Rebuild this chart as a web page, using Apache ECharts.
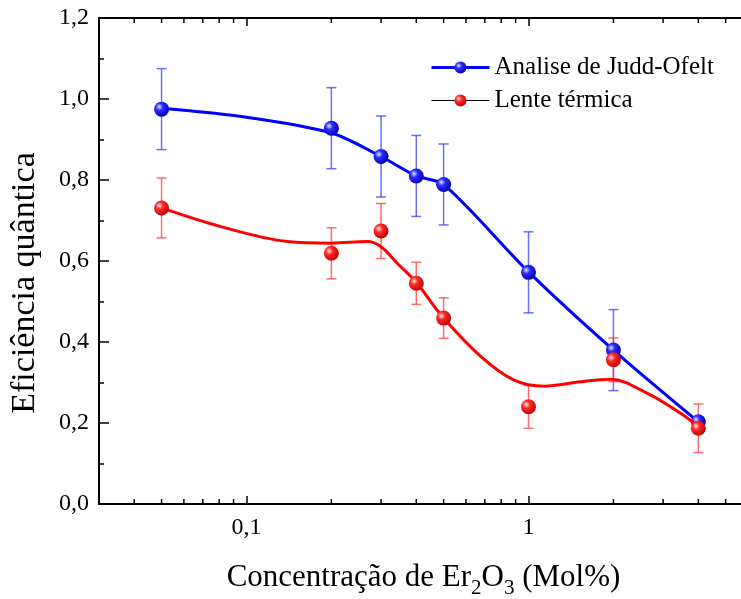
<!DOCTYPE html>
<html>
<head>
<meta charset="utf-8">
<script src="https://cdn.jsdelivr.net/npm/echarts@6/dist/echarts.min.js"></script>
<style>html,body{margin:0;padding:0;background:#fff;}#c{width:741px;height:599px;}</style>
</head>
<body>
<div id="c"></div>
<script>
// Concentration (Mol%) of the measured samples
var conc = [0.05, 0.2, 0.3, 0.4, 0.5, 1, 2, 4];
// Judd-Ofelt quantum efficiency and error
var joValues = [0.975, 0.928, 0.858, 0.81, 0.789, 0.572, 0.38, 0.203];
var joErrors = [0.1, 0.1, 0.1, 0.1, 0.1, 0.1, 0.1, 0.0];
// Thermal lens quantum efficiency and error
var ltValues = [0.731, 0.619, 0.674, 0.545, 0.459, 0.240, 0.356, 0.187];
var ltErrors = [0.074, 0.063, 0.068, 0.052, 0.05, 0.053, 0.054, 0.06];
// Smoothed guide curves
var joCurveX = [0.05, 0.1, 0.2, 0.3, 0.4, 0.5, 1, 2, 4];
var joCurveY = [0.977, 0.955, 0.916, 0.858, 0.81, 0.789, 0.573, 0.38, 0.203];
var ltCurveX = [0.05, 0.081, 0.14, 0.2, 0.269, 0.3, 0.343, 0.4, 0.5, 0.678, 0.889, 1.136, 1.53, 1.956, 2.64, 3.46, 4];
var ltCurveY = [0.731, 0.685, 0.648, 0.644, 0.648, 0.635, 0.594, 0.547, 0.459, 0.364, 0.306, 0.291, 0.302, 0.308, 0.273, 0.224, 0.191];
// Axis ticks
var xMinorTicks = [0.04, 0.05, 0.06, 0.07, 0.08, 0.09, 0.2, 0.3, 0.4, 0.5, 0.6, 0.7, 0.8, 0.9, 2, 3, 4, 5];
var names = ['Analise de Judd-Ofelt', 'Lente térmica'];

var FONT = '"Liberation Serif", "Times New Roman", serif';
function zip(a, b) { return a.map(function (v, i) { return [v, b[i]]; }); }
function sphere(light, mid, dark) {
  return new echarts.graphic.RadialGradient(0.35, 0.35, 0.7, [
    {offset: 0, color: light}, {offset: 0.35, color: mid}, {offset: 1, color: dark}]);
}
var blueBall = sphere('#e8e8ff', '#2a2aff', '#0000b0');
var redBall = sphere('#ffe8e8', '#ff2a2a', '#c00000');

function errorSeries(vals, errs, color) {
  return {
    type: 'custom', silent: true, z: 3,
    data: conc.map(function (c, i) { return [c, vals[i] - errs[i], vals[i] + errs[i]]; }),
    encode: {x: 0, y: [1, 2]},
    renderItem: function (params, api) {
      if (api.value(2) - api.value(1) <= 0) return null;
      var lo = api.coord([api.value(0), api.value(1)]);
      var hi = api.coord([api.value(0), api.value(2)]);
      var w = 5;
      var st = {stroke: color, lineWidth: 1.5};
      return {type: 'group', children: [
        {type: 'line', shape: {x1: lo[0], y1: lo[1], x2: hi[0], y2: hi[1]}, style: st},
        {type: 'line', shape: {x1: lo[0] - w, y1: lo[1], x2: lo[0] + w, y2: lo[1]}, style: st},
        {type: 'line', shape: {x1: hi[0] - w, y1: hi[1], x2: hi[0] + w, y2: hi[1]}, style: st}
      ]};
    }
  };
}

var chart = echarts.init(document.getElementById('c'), null, {renderer: 'canvas'});
var option = {
  animation: false,
  backgroundColor: '#fff',
  grid: {left: 99, right: -7, top: 18, bottom: 95, containLabel: false, outerBoundsMode: 'none'},
  legend: {
    left: 430, top: 55, orient: 'vertical', padding: 0,
    itemWidth: 58, itemHeight: 15, itemGap: 8,
    textStyle: {fontFamily: FONT, fontSize: 25, lineHeight: 25, color: '#000'},
    data: [
      {name: names[0], lineStyle: {color: '#0000ff', width: 3, opacity: 1}},
      {name: names[1], lineStyle: {color: '#000000', width: 1, opacity: 1}}
    ]
  },
  xAxis: [{
    type: 'log', logBase: 10, min: 0.03, max: 6, position: 'bottom',
    axisLine: {lineStyle: {color: '#000', width: 2}},
    axisTick: {inside: true, length: 8, lineStyle: {color: '#000', width: 1.5}},
    axisLabel: {
      fontFamily: FONT, fontSize: 24, color: '#000', margin: 12,
      formatter: function (v) {
        if (Math.abs(v - 0.1) < 1e-6) return '0,1';
        if (Math.abs(v - 1) < 1e-6) return '1';
        return '';
      }
    },
    splitLine: {show: false},
    name: 'Concentração de Er{sub|2}O{sub|3} (Mol%)',
    nameLocation: 'middle', nameGap: 52,
    nameTextStyle: {
      fontFamily: FONT, fontSize: 31, color: '#000',
      rich: {sub: {fontFamily: FONT, fontSize: 21, color: '#000', padding: [22, 0, 0, 0]}}
    }
  }, {
    type: 'log', logBase: 10, min: 0.03, max: 6, position: 'top',
    axisLine: {lineStyle: {color: '#000', width: 2}},
    axisTick: {inside: true, length: 8, lineStyle: {color: '#000', width: 1.5}},
    axisLabel: {show: false},
    splitLine: {show: false}
  }],
  yAxis: {
    type: 'value', min: 0, max: 1.2, interval: 0.2,
    axisLine: {show: true, lineStyle: {color: '#000', width: 2}},
    axisTick: {inside: true, length: 10, lineStyle: {color: '#000', width: 1.5}},
    minorTick: {show: true, splitNumber: 2, length: 5, lineStyle: {color: '#000', width: 1.5}},
    axisLabel: {
      fontFamily: FONT, fontSize: 24, color: '#000', margin: 10,
      formatter: function (v) { return v.toFixed(1).replace('.', ','); }
    },
    splitLine: {show: false},
    name: 'Eficiência quântica', nameLocation: 'middle', nameGap: 57,
    nameTextStyle: {fontFamily: FONT, fontSize: 34, color: '#000', padding: [0, 44, 0, 0]}
  },
  series: [
    {
      type: 'custom', silent: true, z: 1,
      data: xMinorTicks.map(function (v) { return [v, 0]; }),
      encode: {x: 0, y: 1},
      renderItem: function (params, api) {
        var b = api.coord([api.value(0), 0]);
        var t = api.coord([api.value(0), 1.2]);
        var st = {stroke: '#000', lineWidth: 1.5};
        return {type: 'group', children: [
          {type: 'line', shape: {x1: b[0], y1: b[1], x2: b[0], y2: b[1] - 5}, style: st},
          {type: 'line', shape: {x1: t[0], y1: t[1], x2: t[0], y2: t[1] + 5}, style: st}
        ]};
      }
    },
    {
      name: 'joCurve', type: 'line', smooth: 0.3, symbol: 'none', z: 2,
      data: zip(joCurveX, joCurveY),
      lineStyle: {color: '#0000ff', width: 3}
    },
    errorSeries(joValues, joErrors, 'rgba(60,60,255,0.75)'),
    {
      name: names[0], type: 'line', z: 4,
      data: zip(conc, joValues),
      symbol: 'circle', symbolSize: 15, showSymbol: true,
      lineStyle: {width: 0, opacity: 0},
      itemStyle: {color: blueBall, borderWidth: 0}
    },
    {
      name: 'ltCurve', type: 'line', smooth: 0.35, symbol: 'none', z: 5,
      data: zip(ltCurveX, ltCurveY),
      lineStyle: {color: '#ff0000', width: 3}
    },
    errorSeries(ltValues, ltErrors, 'rgba(255,60,60,0.75)'),
    {
      name: names[1], type: 'line', z: 7,
      data: zip(conc, ltValues),
      symbol: 'circle', symbolSize: 15, showSymbol: true,
      lineStyle: {width: 0, opacity: 0},
      itemStyle: {color: redBall, borderWidth: 0}
    }
  ]
};
chart.setOption(option);
</script>
</body>
</html>
